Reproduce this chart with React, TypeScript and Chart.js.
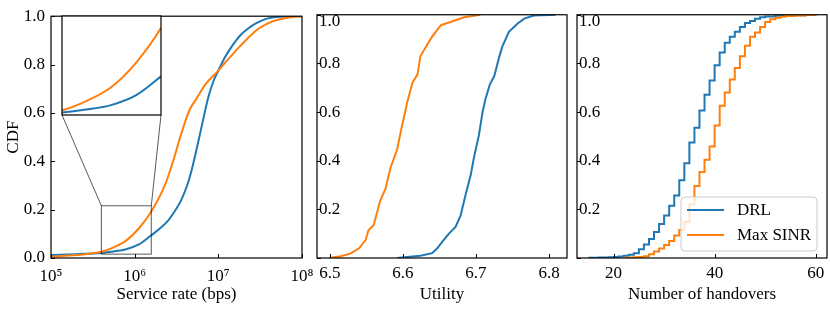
import React, { useEffect, useRef } from 'react';
import { Chart, registerables } from 'chart.js';

Chart.register(...registerables);

const FONT = "'Liberation Serif', 'Times New Roman', Times, serif";
const BLUE = '#1f77b4';
const ORANGE = '#ff7f0e';
const SERIES_NAMES = ['DRL', 'Max SINR'];

const W = 830;
const H = 309;
const TOP = 11;
const BOTTOM = 258;
const P1 = { left: 51, right: 302 };
const P2 = { left: 317, right: 567 };
const P3 = { left: 577, right: 827 };
const INSET = { left: 62, top: 16, right: 161, bottom: 115 };

const Y_TICKS = [0, 0.2, 0.4, 0.6, 0.8, 1.0];

// Panel 1: service rate (bps), log axis
const RATE_RANGE = [1e5, 1e8];
const RATE_TICKS = [1e5, 1e6, 1e7, 1e8];
const RATE_TICK_LABELS = ['10⁵', '10⁶', '10⁷', '10⁸'];
const RATE_DRL_X = [1e5, 2e5, 4e5, 5.6e5, 7.9e5, 1.12e6, 1.58e6, 2.0e6, 2.51e6, 3.16e6, 3.55e6, 3.98e6, 4.47e6, 5.01e6, 5.75e6, 6.61e6, 7.59e6, 8.71e6, 1e7, 1.2e7, 1.45e7, 1.82e7, 2.29e7, 2.88e7, 3.8e7, 5.6e7, 1e8];
const RATE_DRL_Y = [0.012, 0.016, 0.021, 0.027, 0.036, 0.056, 0.094, 0.122, 0.155, 0.205, 0.235, 0.275, 0.325, 0.39, 0.48, 0.575, 0.665, 0.73, 0.775, 0.83, 0.875, 0.92, 0.95, 0.972, 0.99, 0.998, 1.0];
const RATE_MAX_X = [1e5, 2e5, 4e5, 5.6e5, 7.9e5, 1.12e6, 1.58e6, 2.29e6, 2.82e6, 3.47e6, 3.98e6, 4.57e6, 5.5e6, 7.08e6, 1e7, 1.26e7, 1.66e7, 2.19e7, 2.88e7, 3.8e7, 5e7, 7.1e7, 1e8];
const RATE_MAX_Y = [0.006, 0.012, 0.0255, 0.044, 0.072, 0.122, 0.192, 0.3, 0.39, 0.495, 0.56, 0.615, 0.66, 0.72, 0.775, 0.815, 0.862, 0.905, 0.943, 0.968, 0.984, 0.995, 1.0];
const ZOOM_X = [4.0e5, 1.58e6];
const ZOOM_Y = [0.016, 0.216];

// Panel 2: utility
const UTIL_RANGE = [6.4825, 6.8245];
const UTIL_TICKS = [6.5, 6.6, 6.7, 6.8];
const UTIL_DRL_X = [6.592, 6.606, 6.624, 6.64, 6.647, 6.654, 6.663, 6.672, 6.679, 6.686, 6.693, 6.697, 6.704, 6.709, 6.713, 6.719, 6.725, 6.732, 6.736, 6.745, 6.757, 6.766, 6.779, 6.809];
const UTIL_DRL_Y = [0, 0.004, 0.009, 0.02, 0.04, 0.067, 0.1, 0.128, 0.175, 0.263, 0.344, 0.41, 0.505, 0.6, 0.654, 0.714, 0.748, 0.829, 0.869, 0.93, 0.964, 0.984, 0.997, 1.0];
const UTIL_MAX_X = [6.4986, 6.515, 6.528, 6.54, 6.549, 6.553, 6.56, 6.569, 6.576, 6.583, 6.592, 6.599, 6.606, 6.613, 6.62, 6.624, 6.633, 6.64, 6.652, 6.665, 6.684, 6.706];
const UTIL_MAX_Y = [0, 0.007, 0.018, 0.04, 0.074, 0.115, 0.135, 0.236, 0.283, 0.37, 0.445, 0.546, 0.64, 0.72, 0.755, 0.83, 0.876, 0.91, 0.957, 0.97, 0.99, 1.0];

// Panel 3: number of handovers (step ECDF)
const HO_RANGE = [12.75, 62.25];
const HO_TICKS = [20, 40, 60];
const HO_DRL_X = [15, 17, 19, 20, 21, 22, 23, 24, 25, 26, 27, 28, 29, 30, 31, 32, 33, 34, 35, 36, 37, 38, 39, 40, 41, 42, 43, 44, 45, 46, 47, 48, 49, 50, 52, 55, 58, 60];
const HO_DRL_Y = [0.001, 0.002, 0.003, 0.004, 0.006, 0.009, 0.013, 0.02, 0.036, 0.056, 0.078, 0.107, 0.14, 0.175, 0.215, 0.257, 0.32, 0.39, 0.475, 0.535, 0.606, 0.671, 0.73, 0.792, 0.845, 0.885, 0.91, 0.93, 0.95, 0.966, 0.974, 0.984, 0.99, 0.993, 0.996, 0.998, 1.0, 1.0];
const HO_MAX_X = [22, 23, 24, 25, 26, 27, 28, 29, 30, 31, 32, 33, 34, 35, 36, 37, 38, 39, 40, 41, 42, 43, 44, 45, 46, 47, 48, 49, 50, 51, 52, 53, 54, 56, 58, 60];
const HO_MAX_Y = [0.001, 0.002, 0.003, 0.004, 0.007, 0.015, 0.027, 0.039, 0.053, 0.07, 0.093, 0.115, 0.148, 0.22, 0.296, 0.354, 0.404, 0.458, 0.545, 0.626, 0.68, 0.734, 0.781, 0.829, 0.873, 0.91, 0.927, 0.95, 0.97, 0.981, 0.988, 0.992, 0.995, 0.997, 0.999, 1.0];

const pts = (xs: number[], ys: number[]) => xs.map((x, i) => ({ x, y: ys[i] }));

const tickFont = { size: 17, family: FONT };
const titleFont = { size: 17, family: FONT };

function framePlugin(extra?: (chart: any) => void) {
  return {
    id: 'frame',
    afterDraw(chart: any) {
      const { ctx, chartArea: a } = chart;
      const xs = chart.scales.x;
      const ys = chart.scales.y;
      ctx.save();
      ctx.strokeStyle = '#000';
      ctx.lineWidth = 1;
      ctx.beginPath();
      for (const t of xs.ticks) {
        const px = Math.round(xs.getPixelForValue(t.value)) + 0.5;
        ctx.moveTo(px, a.bottom);
        ctx.lineTo(px, a.bottom - 4);
      }
      for (const t of ys.ticks) {
        const py = Math.round(ys.getPixelForValue(t.value)) + 0.5;
        ctx.moveTo(a.left, py);
        ctx.lineTo(a.left + 4, py);
      }
      ctx.stroke();
      ctx.lineWidth = 1.2;
      ctx.strokeRect(a.left, a.top, a.right - a.left, a.bottom - a.top);
      ctx.restore();
      if (extra) extra(chart);
    },
  };
}

const zoomMarker = (chart: any) => {
  const { ctx } = chart;
  const xs = chart.scales.x;
  const ys = chart.scales.y;
  const x0 = xs.getPixelForValue(ZOOM_X[0]);
  const x1 = xs.getPixelForValue(ZOOM_X[1]);
  const y0 = ys.getPixelForValue(ZOOM_Y[0]);
  const y1 = ys.getPixelForValue(ZOOM_Y[1]);
  ctx.save();
  ctx.strokeStyle = 'rgba(0,0,0,0.65)';
  ctx.lineWidth = 1;
  ctx.strokeRect(x0, y1, x1 - x0, y0 - y1);
  ctx.beginPath();
  ctx.moveTo(INSET.left, INSET.bottom);
  ctx.lineTo(x0, y1);
  ctx.moveTo(INSET.right, INSET.bottom);
  ctx.lineTo(x1, y1);
  ctx.stroke();
  ctx.restore();
};

const legendPlugin = {
  id: 'boxLegend',
  afterDraw(chart: any) {
    const { ctx, chartArea: a } = chart;
    const w = 136;
    const h = 54;
    const x = a.right - 10 - w;
    const y = a.bottom - 7 - h;
    ctx.save();
    ctx.beginPath();
    ctx.roundRect(x, y, w, h, 4);
    ctx.fillStyle = 'rgba(255,255,255,0.8)';
    ctx.fill();
    ctx.strokeStyle = '#cccccc';
    ctx.lineWidth = 1;
    ctx.stroke();
    ctx.font = `17px ${FONT}`;
    ctx.textBaseline = 'middle';
    ctx.textAlign = 'left';
    chart.data.datasets.forEach((ds: any, i: number) => {
      const ly = y + 13 + i * 25;
      ctx.strokeStyle = ds.borderColor;
      ctx.lineWidth = 2;
      ctx.beginPath();
      ctx.moveTo(x + 6, ly);
      ctx.lineTo(x + 43, ly);
      ctx.stroke();
      ctx.fillStyle = '#000';
      ctx.fillText(ds.label, x + 56, ly + 1);
    });
    ctx.restore();
  },
};

const insetPlugin = {
  id: 'insetFrame',
  beforeDatasetsDraw(chart: any) {
    const { ctx, chartArea: a } = chart;
    ctx.save();
    ctx.fillStyle = '#fff';
    ctx.fillRect(a.left, a.top, a.right - a.left, a.bottom - a.top);
    ctx.restore();
  },
  afterDraw(chart: any) {
    const { ctx, chartArea: a } = chart;
    ctx.save();
    ctx.strokeStyle = '#000';
    ctx.lineWidth = 1.2;
    ctx.strokeRect(a.left, a.top, a.right - a.left, a.bottom - a.top);
    ctx.restore();
  },
};

function yAxis(inside: boolean, width: number, title?: string) {
  return {
    min: 0,
    max: 1,
    afterBuildTicks: (s: any) => {
      s.ticks = Y_TICKS.map((v) => ({ value: v }));
    },
    afterFit: (s: any) => {
      s.width = width;
    },
    grid: { display: false, drawTicks: false },
    border: { display: false },
    ticks: inside
      ? {
          mirror: true,
          padding: 2,
          color: '#000',
          font: { size: 17, family: FONT, lineHeight: 0.75 },
          callback: (v: any) => (v === 0 ? '' : v === 1 ? ['', '1.0'] : Number(v).toFixed(1)),
        }
      : {
          padding: 6,
          color: '#000',
          font: tickFont,
          callback: (v: any) => Number(v).toFixed(1),
        },
    title: title
      ? { display: true, text: title, color: '#000', font: titleFont, padding: { top: 3, bottom: 0 } }
      : { display: false },
  };
}

function xAxis(type: string, range: number[], ticks: number[], labels: string[] | null, title: string, padding: number) {
  return {
    type,
    min: range[0],
    max: range[1],
    afterBuildTicks: (s: any) => {
      s.ticks = ticks.map((v) => ({ value: v }));
    },
    afterFit: (s: any) => {
      s.height = H - BOTTOM;
    },
    grid: { display: false, drawTicks: false },
    border: { display: false },
    ticks: {
      padding,
      color: '#000',
      font: tickFont,
      maxRotation: 0,
      minRotation: 0,
      autoSkip: false,
      callback: (v: any, i: number) => (labels ? labels[i] : String(v)),
    },
    title: { display: true, text: title, color: '#000', font: titleFont, padding: { top: 0, bottom: 4 } },
  };
}

function line(label: string, data: any[], color: string, order: number, extra: any = {}) {
  return {
    label,
    data,
    borderColor: color,
    backgroundColor: color,
    borderWidth: 2,
    pointRadius: 0,
    fill: false,
    order,
    ...extra,
  };
}

function baseOptions(box: { left: number; right: number }, scales: any, padLeft = 0) {
  return {
    responsive: false,
    maintainAspectRatio: false,
    animation: false,
    events: [],
    layout: { padding: { left: padLeft, right: W - box.right, top: TOP, bottom: 0 } },
    plugins: { legend: { display: false }, tooltip: { enabled: false } },
    scales,
  };
}

export default function App() {
  const r1 = useRef<HTMLCanvasElement>(null);
  const r2 = useRef<HTMLCanvasElement>(null);
  const r3 = useRef<HTMLCanvasElement>(null);
  const r4 = useRef<HTMLCanvasElement>(null);

  useEffect(() => {
    Chart.defaults.font.family = FONT;
    Chart.defaults.color = '#000';
    const smooth = { cubicInterpolationMode: 'monotone' };

    const c1 = new Chart(r1.current as HTMLCanvasElement, {
      type: 'line',
      data: {
        datasets: [
          line(SERIES_NAMES[0], pts(RATE_DRL_X, RATE_DRL_Y), BLUE, 1, smooth),
          line(SERIES_NAMES[1], pts(RATE_MAX_X, RATE_MAX_Y), ORANGE, 0, smooth),
        ],
      },
      options: baseOptions(P1, {
        x: xAxis('logarithmic', RATE_RANGE, RATE_TICKS, RATE_TICK_LABELS, 'Service rate (bps)', 8),
        y: yAxis(false, P1.left, 'CDF'),
      }) as any,
      plugins: [framePlugin(zoomMarker)],
    } as any);

    const c2 = new Chart(r2.current as HTMLCanvasElement, {
      type: 'line',
      data: {
        datasets: [
          line(SERIES_NAMES[0], pts(UTIL_DRL_X, UTIL_DRL_Y), BLUE, 1, { tension: 0 }),
          line(SERIES_NAMES[1], pts(UTIL_MAX_X, UTIL_MAX_Y), ORANGE, 0, { tension: 0 }),
        ],
      },
      options: baseOptions(P2, {
        x: xAxis('linear', UTIL_RANGE, UTIL_TICKS, null, 'Utility', 5),
        y: yAxis(true, 40),
      }, P2.left - 40) as any,
      plugins: [framePlugin()],
    } as any);

    const c3 = new Chart(r3.current as HTMLCanvasElement, {
      type: 'line',
      data: {
        datasets: [
          line(SERIES_NAMES[0], pts(HO_DRL_X, HO_DRL_Y), BLUE, 1, { stepped: 'before' }),
          line(SERIES_NAMES[1], pts(HO_MAX_X, HO_MAX_Y), ORANGE, 0, { stepped: 'before' }),
        ],
      },
      options: baseOptions(P3, {
        x: xAxis('linear', HO_RANGE, HO_TICKS, null, 'Number of handovers', 5),
        y: yAxis(true, 40),
      }, P3.left - 40) as any,
      plugins: [framePlugin(), legendPlugin],
    } as any);

    const c4 = new Chart(r4.current as HTMLCanvasElement, {
      type: 'line',
      data: {
        datasets: [
          line(SERIES_NAMES[0], pts(RATE_DRL_X, RATE_DRL_Y), BLUE, 1, smooth),
          line(SERIES_NAMES[1], pts(RATE_MAX_X, RATE_MAX_Y), ORANGE, 0, smooth),
        ],
      },
      options: {
        responsive: false,
        maintainAspectRatio: false,
        animation: false,
        events: [],
        layout: { padding: { left: INSET.left, right: W - INSET.right, top: INSET.top, bottom: H - INSET.bottom } },
        plugins: { legend: { display: false }, tooltip: { enabled: false } },
        scales: {
          x: { type: 'logarithmic', min: ZOOM_X[0], max: ZOOM_X[1], display: false },
          y: { min: ZOOM_Y[0], max: ZOOM_Y[1], display: false },
        },
      } as any,
      plugins: [insetPlugin],
    } as any);

    return () => {
      c1.destroy();
      c2.destroy();
      c3.destroy();
      c4.destroy();
    };
  }, []);

  const cs = { position: 'absolute' as const, left: 0, top: 0 };
  return (
    <div style={{ position: 'fixed', left: 0, top: 0, width: W, height: H, background: '#fff' }}>
      <canvas ref={r1} width={W} height={H} style={cs} />
      <canvas ref={r2} width={W} height={H} style={cs} />
      <canvas ref={r3} width={W} height={H} style={cs} />
      <canvas ref={r4} width={W} height={H} style={cs} />
    </div>
  );
}
